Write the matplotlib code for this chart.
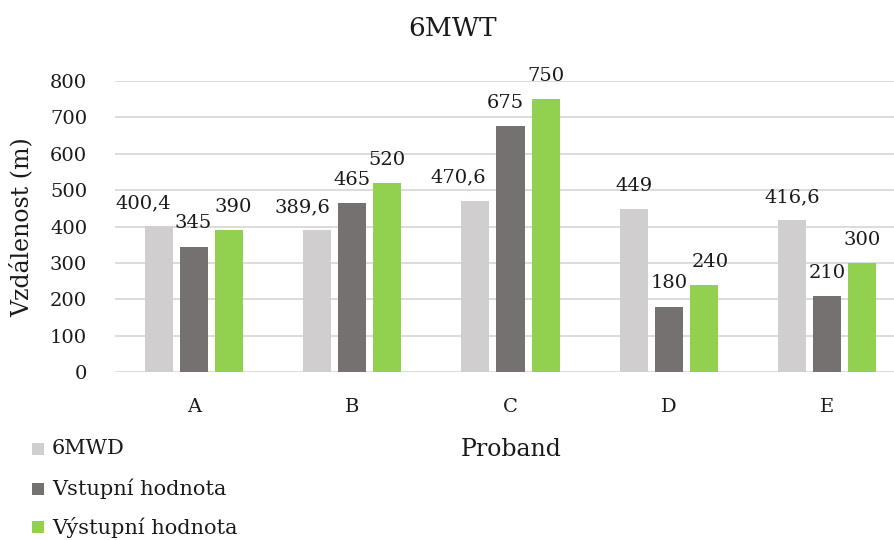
import matplotlib
matplotlib.use("Agg")
import matplotlib.pyplot as plt
import numpy as np
from matplotlib.patches import Rectangle

categories = ["A", "B", "C", "D", "E"]
series_names = ["6MWD", "Vstupní hodnota", "Výstupní hodnota"]
mwd = [400.4, 389.6, 470.6, 449, 416.6]
vstup = [345, 465, 675, 180, 210]
vystup = [390, 520, 750, 240, 300]
colors = ["#D0CECE", "#767171", "#92D050"]

# horizontal nudges (px) of data labels, as placed in the original to avoid overlap
label_nudge = [
    [-16, -15, -17, 0, 0],
    [-1, 0, -5, 0, 0],
    [4, 0, 0, 6, 0],
]

plt.rcParams['font.family'] = ['DejaVu Serif']

W, H = 894, 540
fig = plt.figure(figsize=(W/100, H/100), dpi=100)
left, right = 115, 906
ax = fig.add_axes([left/W, 1-372/H, (right-left)/W, (372-81)/H])

x = np.arange(len(categories))
bw = 0.177
pitch = 0.222
fs = 14
tc = "#1a1a1a"

def fmt(v):
    s = f"{v:g}"
    return s.replace(".", ",")

for i, (vals, c) in enumerate(zip([mwd, vstup, vystup], colors)):
    pos = x + (i - 1) * pitch
    ax.bar(pos, vals, width=bw, color=c, zorder=3)
    for j, (p, v) in enumerate(zip(pos, vals)):
        ax.annotate(fmt(v), (p, v), xytext=(label_nudge[i][j] * 0.72, 13),
                    textcoords="offset points",
                    ha="center", va="baseline", fontsize=fs, color=tc)

ax.set_xlim(-0.5, 4.5)
ax.set_ylim(0, 800)
ax.set_yticks(range(0, 801, 100))
ax.set_xticks(x)
ax.set_xticklabels(categories)
ax.tick_params(length=0, labelsize=fs, colors=tc)
ax.tick_params(axis='y', pad=20)
ax.tick_params(axis='x', pad=19)
ax.grid(axis='y', color="#D9D9D9", linewidth=1.3, zorder=0)
for s in ax.spines.values():
    s.set_visible(False)

fig.text(453/W, 1-28/H, "6MWT", ha="center", va="center", fontsize=19, color=tc)
fig.text(22/W, 1-227/H, "Vzdálenost (m)", ha="center", va="center", rotation=90,
         fontsize=17, color=tc)
fig.text(511/W, 1-450/H, "Proband", ha="center", va="center", fontsize=17, color=tc)

rows_y = [449, 489, 527]
for name, c, yy in zip(series_names, colors, rows_y):
    fig.patches.append(Rectangle((32/W, 1-(yy+6)/H), 12/W, 12/H, transform=fig.transFigure,
                                 facecolor=c, edgecolor='none'))
    fig.text(52/W, 1-yy/H, name, ha="left", va="center", fontsize=15, color=tc)

fig.savefig("out.png", dpi=100)
